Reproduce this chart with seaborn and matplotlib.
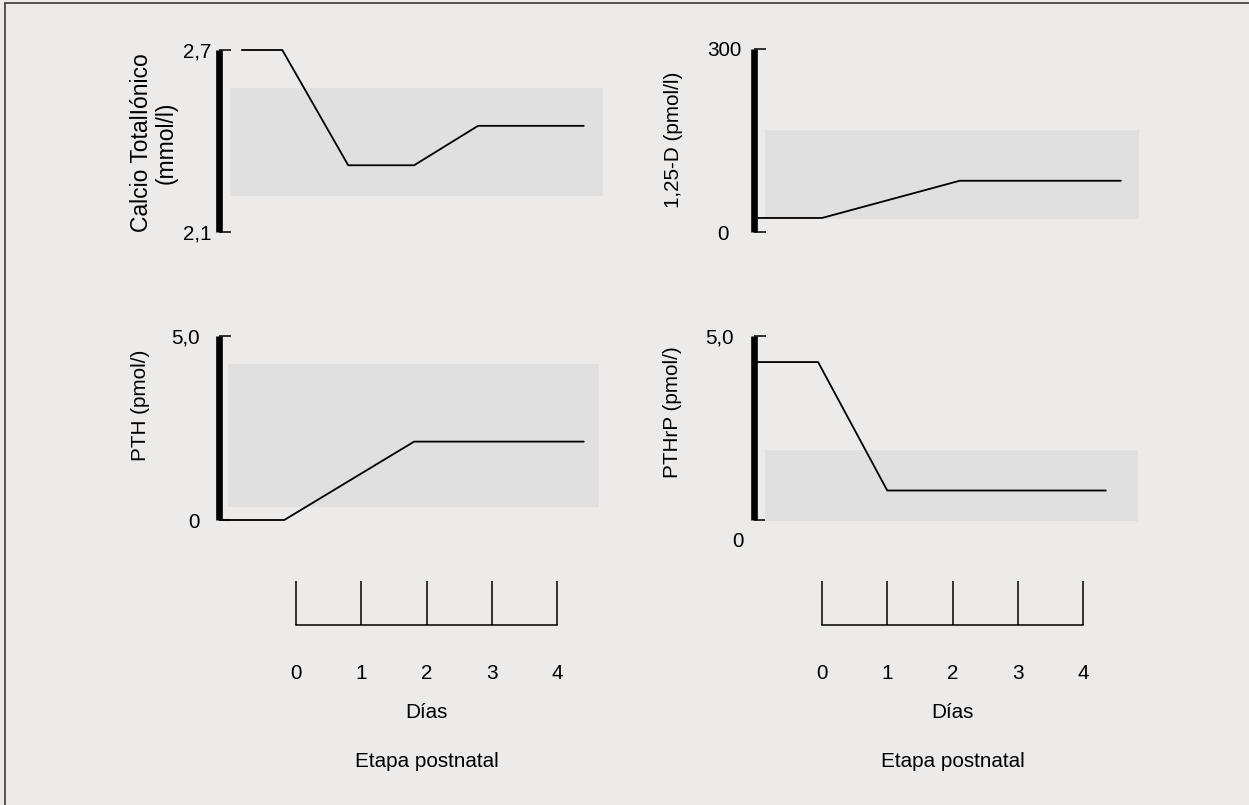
import numpy as np
import pandas as pd
import seaborn as sns
import matplotlib.pyplot as plt
from matplotlib.lines import Line2D
from matplotlib.transforms import ScaledTranslation

sns.set_theme(style="white")
plt.rcParams['font.family'] = ['Liberation Sans', 'DejaVu Sans']

# --- data (x in days) ---
days = [0, 1, 2, 3, 4]
day_labels = ["0", "1", "2", "3", "4"]

calcio_x = [-0.83, -0.21, 0.80, 1.81, 2.79, 4.41]
calcio_y = [2.7, 2.7, 2.32, 2.32, 2.45, 2.45]
calcio_band_x = [-1.01, 4.70]
calcio_band_y = [2.22, 2.575]

vitd_x = [-0.98, 0.0, 2.11, 4.58]
vitd_y = [23, 23, 84, 84]
vitd_band_x = [-0.87, 4.86]
vitd_band_y = [21, 167]

pth_x = [-1.17, -0.18, 1.81, 4.41]
pth_y = [0, 0, 2.13, 2.13]
pth_band_x = [-1.04, 4.65]
pth_band_y = [0.35, 4.25]

pthrp_x = [-1.0, -0.06, 1.0, 4.35]
pthrp_y = [4.29, 4.29, 0.79, 0.79]
pthrp_band_x = [-0.88, 4.84]
pthrp_band_y = [-0.05, 1.89]

# --- layout (pixels) ---
W, H = 1249, 805
BG = '#ECEBE9'
BAND = '#E0E0E0'
FS = 14.9
PX_DAY = 65.25
AX_W = 392

fig = plt.figure(figsize=(W / 100, H / 100), dpi=100, facecolor=BG)


def px_axes(left, top, right, bottom):
    return fig.add_axes([left / W, 1 - bottom / H, (right - left) / W, (bottom - top) / H])


def shift_label(lbl, dx, dy):
    lbl.set_transform(lbl.get_transform() + ScaledTranslation(dx / 100, dy / 100, fig.dpi_scale_trans))


def panel(spine_px, day0_px, top, bottom, x, y, bx, by, ylim, yticks, yticklabels,
          ylabel, label_xy, pad, label_fs=FS):
    ax = px_axes(spine_px, top, spine_px + AX_W, bottom)
    ax.set_facecolor('none')
    ax.fill_between(bx, by[0], by[1], color=BAND, linewidth=0, clip_on=False)
    df = pd.DataFrame({'dia': x, 'valor': y})
    sns.lineplot(data=df, x='dia', y='valor', ax=ax, color='black', linewidth=1.3,
                 sort=False, estimator=None, clip_on=False)
    ax.set_xlim((spine_px - day0_px) / PX_DAY, (spine_px + AX_W - day0_px) / PX_DAY)
    ax.set_ylim(*ylim)
    ax.set_xticks([])
    ax.set_yticks(yticks)
    ax.set_yticklabels(yticklabels)
    for s in ['top', 'right', 'bottom']:
        ax.spines[s].set_visible(False)
    ax.spines['left'].set_linewidth(4.8)
    ax.spines['left'].set_color('black')
    ax.spines['left'].set_capstyle('butt')
    ax.tick_params(axis='y', left=True, direction='in', length=8.3, width=1.1,
                   color='black', pad=pad, labelsize=FS, labelcolor='black')
    ax.set_xlabel('')
    ax.set_ylabel(ylabel, fontsize=label_fs, color='black', linespacing=1.1)
    ax.yaxis.set_label_coords(*label_xy)
    return ax


ax1 = panel(218.5, 296, 50, 232, calcio_x, calcio_y, calcio_band_x, calcio_band_y,
            (2.1, 2.7), [2.1, 2.7], ["2,1", "2,7"],
            "Calcio TotalIónico\n(mmol/l)", (-0.103, 0.49), 5.4, label_fs=16.5)
ax2 = panel(753.5, 822, 49, 232, vitd_x, vitd_y, vitd_band_x, vitd_band_y,
            (0, 300), [0, 300], ["0", "300"],
            "1,25-D (pmol/l)", (-0.18, 0.503), 8.6)
shift_label(ax2.get_yticklabels()[0], -13, 0)
ax3 = panel(218.5, 296, 336, 520, pth_x, pth_y, pth_band_x, pth_band_y,
            (0, 5), [0, 5], ["0", "5,0"],
            "PTH (pmol/)", (-0.175, 0.625), 13.5)
ax4 = panel(753.5, 822, 336, 519.5, pthrp_x, pthrp_y, pthrp_band_x, pthrp_band_y,
            (0, 5), [0, 5], ["0", "5,0"],
            "PTHrP (pmol/)", (-0.183, 0.584), 14.4)
shift_label(ax4.get_yticklabels()[0], 10, -20)

# --- day rulers ---
for day0 in (296, 822):
    ax = px_axes(day0, 581, day0 + 4 * PX_DAY, 625)
    ax.set_facecolor('none')
    ax.set_xlim(days[0], days[-1])
    ax.set_xticks(days)
    ax.set_xticklabels(day_labels)
    ax.set_yticks([])
    for s in ['top', 'right', 'left']:
        ax.spines[s].set_visible(False)
    ax.spines['bottom'].set_linewidth(1.1)
    ax.spines['bottom'].set_color('black')
    ax.tick_params(axis='x', bottom=True, direction='in', length=31.5, width=1.1,
                   color='black', pad=28, labelsize=FS, labelcolor='black')
    ax.set_xlabel("Días", fontsize=FS, color='black')
    ax.xaxis.set_label_coords(0.5, -1.99)
    ax.xaxis.label.set_verticalalignment('center')
    ax.text(0.5, -3.1, "Etapa postnatal", transform=ax.transAxes, ha='center',
            va='center', fontsize=FS, color='black')

# frame (top and left edges)
fig.add_artist(Line2D([5 / W, 5 / W], [0, 1 - 3 / H], transform=fig.transFigure,
                      color='#3a3a3a', linewidth=1.2))
fig.add_artist(Line2D([5 / W, 1], [1 - 3 / H, 1 - 3 / H], transform=fig.transFigure,
                      color='#3a3a3a', linewidth=1.2))

fig.savefig("out.png", dpi=100, facecolor=BG)
